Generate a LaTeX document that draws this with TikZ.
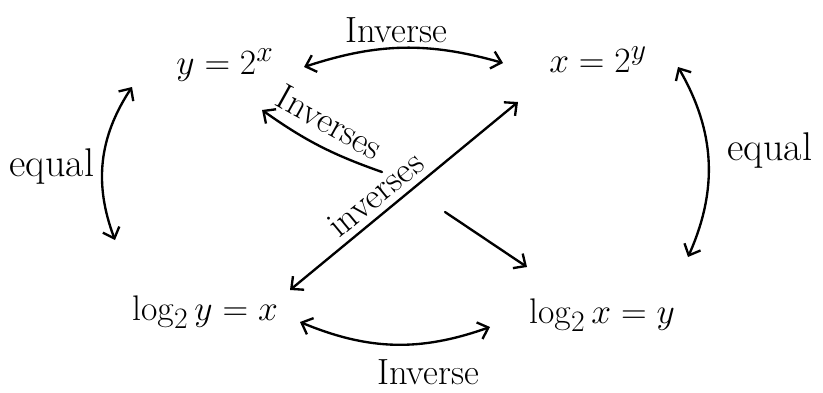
\documentclass[tikz,border=0pt]{standalone}
\usetikzlibrary{arrows.meta}

\begin{document}
\begin{tikzpicture}[x=0.03cm,y=-0.03cm,
  every node/.style={inner sep=2pt, outer sep=0pt},
  eqn/.style={font=\Huge, scale=1.22, transform shape, anchor=base},
  lbl/.style={font=\Huge, scale=1.25, transform shape},
  link/.style={line width=2pt, line cap=round, -{Straight Barb[length=8pt,width=15pt]}},
  both/.style={link, {Straight Barb[length=8pt,width=15pt]}-{Straight Barb[length=8pt,width=15pt]}}]
\useasboundingbox (0,0) rectangle (823,392);

\node[eqn] (yx) at (225,74) {$y=2^x$};
\node[eqn] (xy) at (598,72) {$x=2^y$};
\node[eqn] (ly) at (205,320) {$\log_2 y=x$};
\node[eqn] (lx) at (602,323) {$\log_2 x=y$};

% top and bottom
\draw[both] ([shift={(79,-7)}]yx.base) to[bend left=17] ([shift={(-95,-9)}]xy.base);
\node[lbl] (inv1) at (396,30) {Inverse};
\draw[both] ([shift={(95,2)}]ly.base) to[bend right=21] ([shift={(-112,4)}]lx.base);
\node[lbl] (inv2) at (428,372) {Inverse};

% sides
\draw[both] ([shift={(-93,13)}]yx.base) to[bend right=27] ([shift={(-90,-80)}]ly.base);
\node[lbl, scale=1.1] (eq1) at (52,166) {equal};
\draw[both] ([shift={(80,-5)}]xy.base) to[bend left=27] ([shift={(86,-66)}]lx.base);
\node[lbl, scale=1.1] (eq2) at (770,150) {equal};

% the cross
\coordinate (m1) at (382,172);
\coordinate (m2) at (445,212);
\draw[link] (m1) to[bend left=8] ([shift={(37,36)}]yx.base);
\node[lbl, rotate=-29] (inv3) at (330,122) {Inverses};
\draw[link] (m2) -- ([shift={(-75,-56)}]lx.base);
\draw[both] ([shift={(85,-30)}]ly.base) -- ([shift={(-80,30)}]xy.base)
  node[lbl, sloped, above=3pt, pos=0.43] (inv4) {inverses};
\end{tikzpicture}
\end{document}
